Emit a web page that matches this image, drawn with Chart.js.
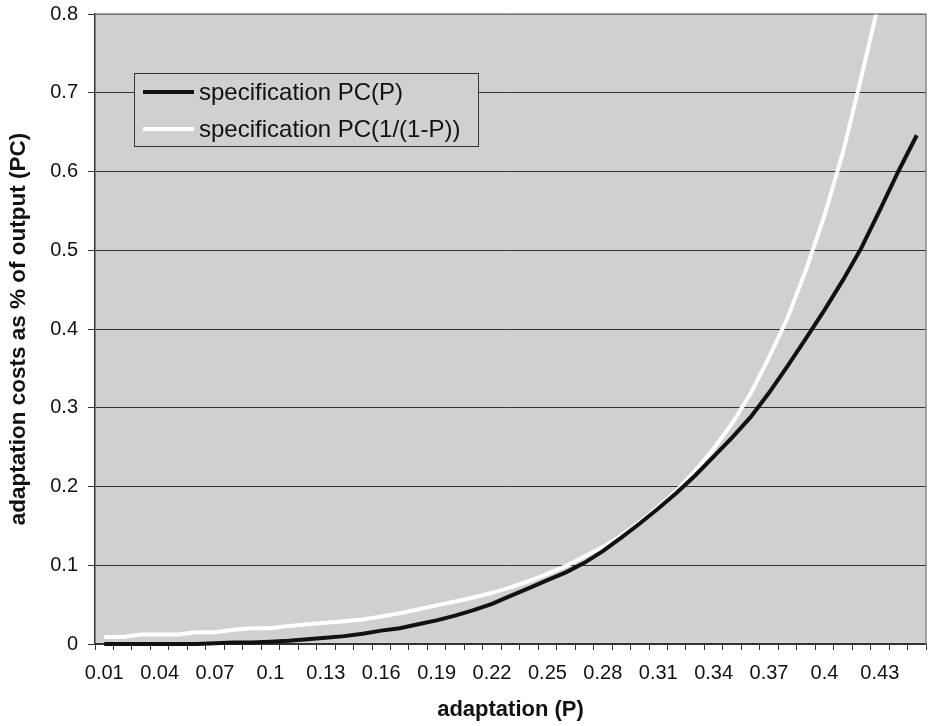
<!DOCTYPE html>
<html>
<head>
<meta charset="utf-8">
<script src="https://cdn.jsdelivr.net/npm/chart.js@4.4.1/dist/chart.umd.min.js"></script>
<style>
  html, body { margin: 0; padding: 0; background: #fff; }
  #wrap { width: 928px; height: 726px; position: relative; }
</style>
</head>
<body>
<div id="wrap"><canvas id="c" width="928" height="726"></canvas></div>
<script>
const categories = ["0.01","0.02","0.03","0.04","0.05","0.06","0.07","0.08","0.09","0.1",
  "0.11","0.12","0.13","0.14","0.15","0.16","0.17","0.18","0.19","0.2",
  "0.21","0.22","0.23","0.24","0.25","0.26","0.27","0.28","0.29","0.3",
  "0.31","0.32","0.33","0.34","0.35","0.36","0.37","0.38","0.39","0.4",
  "0.41","0.42","0.43","0.44","0.45"];

const seriesPC_P = [0,0,0,0,0,0,0.001,0.002,0.002,0.003,
  0.004,0.006,0.008,0.010,0.013,0.017,0.020,0.025,0.030,0.036,
  0.043,0.051,0.061,0.071,0.081,0.091,0.103,0.118,0.135,0.153,
  0.172,0.192,0.214,0.238,0.262,0.288,0.319,0.353,0.388,0.424,
  0.462,0.503,0.551,0.600,0.646];

const seriesPC_inv = [0.009,0.009,0.012,0.012,0.012,0.015,0.015,0.018,0.020,0.020,
  0.023,0.025,0.027,0.029,0.031,0.035,0.039,0.044,0.049,0.054,
  0.059,0.065,0.072,0.080,0.089,0.099,0.111,0.123,0.138,0.155,
  0.174,0.195,0.220,0.248,0.280,0.318,0.364,0.414,0.475,0.544,
  0.624,0.720,0.820,0.930,1.050];

const seriesNames = ["specification PC(P)", "specification PC(1/(1-P))"];
const seriesColors = ["#111111", "#ffffff"];

const yTicks = [0,0.1,0.2,0.3,0.4,0.5,0.6,0.7,0.8];
const xTitle = "adaptation (P)";
const yTitle = "adaptation costs as % of output (PC)";

const FONT = "'Liberation Sans', Arial, Helvetica, sans-serif";

const bgPlugin = {
  id: 'plotBg',
  beforeDraw(chart) {
    const {ctx, chartArea: a} = chart;
    ctx.save();
    ctx.fillStyle = '#d0d0d0';
    ctx.fillRect(a.left, a.top, a.right - a.left, a.bottom - a.top);
    ctx.restore();
  },
  afterDatasetsDraw(chart) {
    const {ctx, chartArea: a} = chart;
    ctx.save();
    ctx.strokeStyle = '#8a8a8a';
    ctx.lineWidth = 1.5;
    ctx.beginPath();
    ctx.moveTo(a.left, a.top);
    ctx.lineTo(a.right, a.top);
    ctx.lineTo(a.right, a.bottom);
    ctx.stroke();
    ctx.restore();
  }
};

const legendPlugin = {
  id: 'boxLegend',
  afterDraw(chart) {
    const {ctx} = chart;
    const bx = 134, by = 73, bw = 344, bh = 73;
    ctx.save();
    ctx.fillStyle = '#d0d0d0';
    ctx.fillRect(bx, by, bw, bh);
    ctx.strokeStyle = '#333';
    ctx.lineWidth = 1;
    ctx.strokeRect(bx + 0.5, by + 0.5, bw, bh);
    ctx.font = "24px " + FONT;
    ctx.textBaseline = 'middle';
    ctx.textAlign = 'left';
    chart.data.datasets.forEach((ds, i) => {
      const y = by + 19 + i * 37;
      ctx.strokeStyle = ds.borderColor;
      ctx.lineWidth = 4;
      ctx.lineCap = 'butt';
      ctx.beginPath();
      ctx.moveTo(143, y);
      ctx.lineTo(194, y);
      ctx.stroke();
      ctx.fillStyle = '#111';
      ctx.fillText(ds.label, 199, y + 1);
    });
    ctx.restore();
  }
};

new Chart(document.getElementById('c'), {
  type: 'line',
  data: {
    labels: categories,
    datasets: [
      { label: seriesNames[0], data: seriesPC_P, borderColor: seriesColors[0], borderWidth: 4,
        pointRadius: 0, tension: 0, fill: false, clip: {left: 5, right: 5, top: 0, bottom: 5} },
      { label: seriesNames[1], data: seriesPC_inv, borderColor: seriesColors[1], borderWidth: 4,
        pointRadius: 0, tension: 0, fill: false, clip: {left: 5, right: 5, top: 0, bottom: 5} }
    ]
  },
  options: {
    responsive: false,
    animation: false,
    devicePixelRatio: 1,
    layout: { padding: { top: 14, right: 2, left: 0, bottom: 0 } },
    plugins: { legend: { display: false }, tooltip: { enabled: false } },
    scales: {
      x: {
        type: 'category',
        offset: true,
        afterFit(scale) { scale.height = 82; },
        grid: { offset: true, drawOnChartArea: false, drawTicks: true, tickLength: 6, color: '#333', lineWidth: 1 },
        border: { display: true, color: '#333', width: 1.5 },
        ticks: {
          autoSkip: false, maxRotation: 0, minRotation: 0, padding: 11, color: '#111',
          font: { family: FONT, size: 20 },
          callback(val, idx) { return idx % 3 === 0 ? categories[idx] : ''; }
        },
        title: { display: true, text: xTitle, color: '#111', font: { family: FONT, size: 22, weight: 'bold' },
          padding: { top: 3, bottom: 3 } }
      },
      y: {
        min: 0, max: 0.8,
        afterFit(scale) { scale.width = 95; scale.paddingTop = 0; scale.paddingBottom = 0; },
        afterBuildTicks(scale) { scale.ticks = yTicks.map(v => ({ value: v })); },
        grid: { drawOnChartArea: true, drawTicks: true, tickLength: 7, color: '#333', lineWidth: 1 },
        border: { display: true, color: '#333', width: 1.5 },
        ticks: {
          padding: 10, color: '#111',
          font: { family: FONT, size: 20, lineHeight: 0.2 },
          callback(v) { return v === 0 ? '0' : Number(v).toFixed(1); }
        },
        title: { display: true, text: yTitle, color: '#111', font: { family: FONT, size: 22.5, weight: 'bold' },
          padding: { top: 5, bottom: 4 } }
      }
    }
  },
  plugins: [bgPlugin, legendPlugin]
});
</script>
</body>
</html>
